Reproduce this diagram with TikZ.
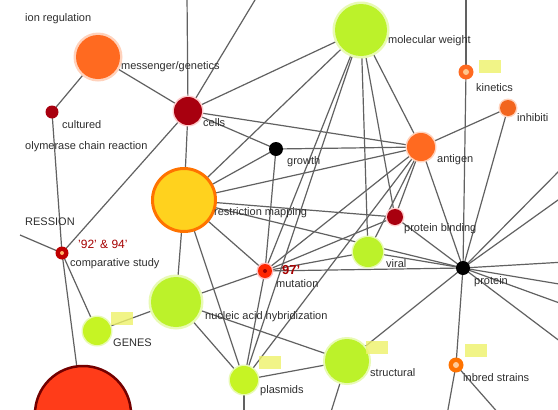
\documentclass[tikz,border=0pt]{standalone}
\usepackage{fontspec}
\setmainfont{Liberation Sans}
\begin{document}
\begin{tikzpicture}[x=1pt,y=-1pt,
  edge/.style={draw=black!62,line width=1.2pt},
  lbl/.style={anchor=west,inner sep=0pt,text=black!82,font=\fontsize{11}{13}\selectfont},
  redlbl/.style={anchor=west,inner sep=0pt,text=red!65!black,font=\fontsize{12}{14}\selectfont},
  badge/.style={fill=yellow!55!lime!60!white,draw=none,minimum width=22pt,minimum height=13pt,inner sep=0pt,opacity=0.8},
  dot/.style={circle,inner sep=0pt,draw=none}
]
\useasboundingbox (0,0) rectangle (558,410);
\clip (0,0) rectangle (558,410);
\fill[white] (0,0) rectangle (558,410);
\definecolor{orng}{HTML}{FF6A20}
\definecolor{dred}{HTML}{A8000F}
\definecolor{ygrn}{HTML}{BCF22A}
\definecolor{ylw}{HTML}{FFD21E}
% coordinates of nodes
\coordinate (msg) at (98,57);
\coordinate (cul) at (52,112);
\coordinate (cel) at (188,111);
\coordinate (mw) at (361,30);
\coordinate (kin) at (466,72);
\coordinate (inh) at (508,108);
\coordinate (gro) at (276,149);
\coordinate (ant) at (421,147);
\coordinate (res) at (184,200);
\coordinate (pb) at (395,217);
\coordinate (vir) at (368,252);
\coordinate (pro) at (463,268);
\coordinate (mut) at (265,271);
\coordinate (cmp) at (62,253);
\coordinate (nuc) at (176,302);
\coordinate (gen) at (97,331);
\coordinate (pla) at (244,380);
\coordinate (str) at (347,361);
\coordinate (inb) at (456,365);
\coordinate (big) at (83,414);
% off-canvas ends
\coordinate (t1) at (187,-5);
\coordinate (t2) at (258,-5);
\coordinate (t3) at (466,-5);
\coordinate (offL) at (20,235);
\coordinate (r1) at (565,165);
\coordinate (r2) at (565,195);
\coordinate (r3) at (565,262);
\coordinate (r4) at (565,285);
\coordinate (r5) at (565,305);
\coordinate (r6) at (565,345);
\coordinate (b1) at (244,415);
\coordinate (b2) at (330,415);
\coordinate (b3) at (447,415);
\coordinate (b4) at (500,415);
% edges
\foreach \a/\b in {msg/cul,msg/cel,cel/t1,cel/t2,cel/mw,cel/gro,cel/ant,cel/res,cel/cmp,cul/cmp,
  cmp/offL,cmp/gen,cmp/big,res/gro,res/ant,res/mw,res/pb,res/pro,res/mut,res/pla,res/nuc,
  gro/ant,gro/mut,mw/ant,mw/vir,mw/mut,mw/pla,mw/pb,ant/inh,ant/pb,ant/pro,ant/vir,ant/mut,ant/pla,
  kin/t3,kin/pro,inh/pro,pb/mut,vir/pro,vir/mut,pro/r1,pro/r2,pro/r3,pro/r4,pro/r5,pro/r6,
  pro/str,pro/inb,pro/mut,pro/pb,mut/nuc,mut/pla,nuc/gen,nuc/pla,nuc/str,pla/str,pla/b1,str/b2,inb/b3,inb/b4}
  {\draw[edge] (\a) -- (\b);}
% nodes
\node[dot,fill=orng!30,minimum size=49pt] at (msg) {};
\node[dot,fill=orng,minimum size=44pt] (nmsg) at (msg) {};
\node[dot,fill=dred,minimum size=13pt] (ncul) at (cul) {};
\node[dot,fill=red!20,minimum size=31pt] at (cel) {};
\node[dot,fill=dred,minimum size=28pt] (ncel) at (cel) {};
\node[dot,fill=ygrn!35,minimum size=57pt] at (mw) {};
\node[dot,fill=ygrn,minimum size=52pt] (nmw) at (mw) {};
\node[dot,fill=orng,minimum size=15pt] (nkin) at (kin) {};
\node[dot,fill=orange!45,minimum size=6pt] at (kin) {};
\node[dot,fill=orng!30,minimum size=19pt] at (inh) {};
\node[dot,fill=orng!95!black,minimum size=16pt] (ninh) at (inh) {};
\node[dot,fill=black,minimum size=14pt] (ngro) at (gro) {};
\node[dot,fill=orng!30,minimum size=31pt] at (ant) {};
\node[dot,fill=orng,minimum size=28pt] (nant) at (ant) {};
\node[dot,fill=ylw,draw=orange!90!red,line width=3pt,minimum size=63pt] (nres) at (res) {};
\node[dot,fill=red!18,minimum size=19pt] at (pb) {};
\node[dot,fill=dred,minimum size=16pt] (npb) at (pb) {};
\node[dot,fill=ygrn!35,minimum size=33pt] at (vir) {};
\node[dot,fill=ygrn,minimum size=30pt] (nvir) at (vir) {};
\node[dot,fill=black,minimum size=14pt] (npro) at (pro) {};
\node[dot,fill=red!25,minimum size=17pt] at (mut) {};
\node[dot,fill=red!70!orange,minimum size=14pt] (nmut) at (mut) {};
\node[dot,fill=red!60!black,minimum size=4pt] at (mut) {};
\node[dot,fill=red!75!black,minimum size=13pt] (ncmp) at (cmp) {};
\node[dot,fill=orange!60,minimum size=4pt] at (cmp) {};
\node[dot,fill=ygrn!35,minimum size=55pt] at (nuc) {};
\node[dot,fill=ygrn,minimum size=50pt] (nnuc) at (nuc) {};
\node[dot,fill=ygrn!35,minimum size=31pt] at (gen) {};
\node[dot,fill=ygrn!85!yellow,minimum size=28pt] (ngen) at (gen) {};
\node[dot,fill=ygrn!35,minimum size=31pt] at (pla) {};
\node[dot,fill=ygrn!85!yellow,minimum size=28pt] (npla) at (pla) {};
\node[dot,fill=ygrn!35,minimum size=48pt] at (str) {};
\node[dot,fill=ygrn,minimum size=44pt] (nstr) at (str) {};
\node[dot,fill=orange!90!red,minimum size=15pt] (ninb) at (inb) {};
\node[dot,fill=orange!40,minimum size=6pt] at (inb) {};
\node[dot,fill=red!70!orange!90!white,draw=red!45!black,line width=2.5pt,minimum size=96pt] (nbig) at (big) {};
% badges
\node[badge] (bkin) at (490,66) {};
\node[badge] (bgen) at (122,318) {};
\node[badge] (bpla) at (270,362) {};
\node[badge] (bstr) at (377,347) {};
\node[badge] (binb) at (476,350) {};
% labels
\node[lbl] (lion) at (25,19) {ion regulation};
\node[lbl] (lmsg) at (121,67) {messenger/genetics};
\node[lbl] (lcul) at (62,125) {cultured};
\node[lbl] (lpol) at (25,147) {olymerase chain reaction};
\node[lbl] (lcel) at (203,123) {cells};
\node[lbl] (lmw) at (388,41) {molecular weight};
\node[lbl] (lkin) at (476,88) {kinetics};
\node[lbl] (linh) at (517,118) {inhibiti};
\node[lbl] (lgro) at (287,162) {growth};
\node[lbl] (lant) at (437,160) {antigen};
\node[lbl] (lres) at (214,213) {restriction mapping};
\node[lbl] (lpb) at (404,229) {protein binding};
\node[lbl] (lvir) at (386,264) {viral};
\node[lbl] (lpro) at (474,282) {protein};
\node[redlbl,font=\fontsize{13}{15}\selectfont\bfseries] (l97) at (282,270) {97'};
\node[lbl] (lmut) at (276,284) {mutation};
\node[lbl] (lexp) at (25,222) {RESSION};
\node[redlbl] (l92) at (78,244) {'92' \& 94'};
\node[lbl] (lcmp) at (70,264) {comparative study};
\node[lbl] (lnuc) at (205,317) {nucleic acid hybridization};
\node[lbl] (lgen) at (113,343) {GENES};
\node[lbl] (lpla) at (260,391) {plasmids};
\node[lbl] (lstr) at (370,373) {structural};
\node[lbl] (linb) at (463,378) {inbred strains};
\end{tikzpicture}
\end{document}
